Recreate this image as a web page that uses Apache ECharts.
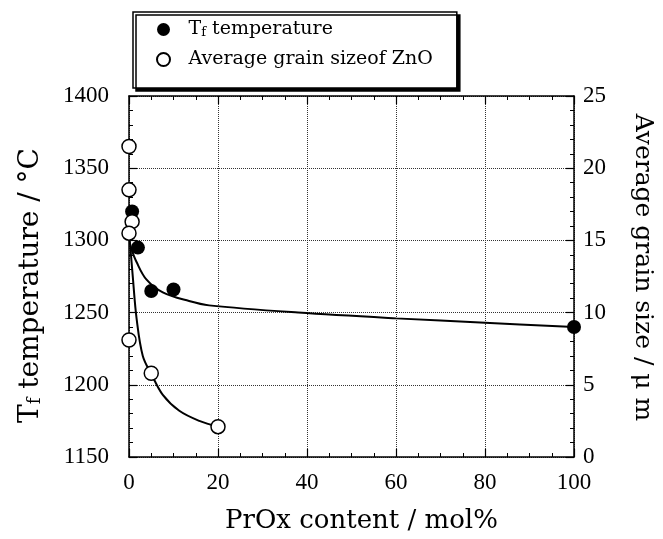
<!DOCTYPE html>
<html>
<head>
<meta charset="utf-8">
<script src="https://cdn.jsdelivr.net/npm/echarts@6/dist/echarts.min.js"></script>
<style>
  html, body { margin: 0; padding: 0; background: #fff; }
  #chart { width: 663px; height: 539px; }
</style>
</head>
<body>
<div id="chart"></div>
<script>
// measured points
const tfX = [0.7, 2, 5, 10, 100];
const tfY = [1320, 1295, 1265, 1266, 1240];
const grainX = [0, 0, 0.7, 0, 0, 5, 20];
const grainY = [21.5, 18.5, 16.3, 15.5, 8.1, 5.8, 2.1];

// fitted curves
const tfCurveX = [0.4, 1.7, 3.9, 7.6, 13.5, 18, 38, 60, 80, 100];
const tfCurveY = [1295, 1285, 1273, 1264, 1258, 1255, 1250, 1246, 1243, 1240];
const grainCurveX = [0.1, 0.9, 1.7, 3.1, 5.1, 7.6, 11.3, 15.8, 20];
const grainCurveY = [15.3, 12.3, 9.6, 7.0, 5.7, 4.3, 3.2, 2.5, 2.1];

const xTicks = [0, 20, 40, 60, 80, 100];
const leftTicks = [1150, 1200, 1250, 1300, 1350, 1400];
const rightTicks = [0, 5, 10, 15, 20, 25];

const serif = "'Liberation Serif', serif";
const wide = "'DejaVu Serif', serif";

const zip = (xs, ys) => xs.map((x, i) => [x, ys[i]]);

const chart = echarts.init(document.getElementById("chart"));

const axisLine = { show: true, onZero: false, lineStyle: { color: "#000", width: 1.5 } };
const tick = { show: true, inside: true, length: 8, lineStyle: { color: "#000", width: 1.2 } };
const minor = (n) => ({ show: true, splitNumber: n, length: 4, lineStyle: { color: "#000", width: 1 } });
const grid = { show: true, lineStyle: { color: "#333", type: "dotted", width: 1 } };
const label = { color: "#000", fontFamily: serif, fontSize: 23, formatter: (v) => String(v) };

const option = {
    backgroundColor: "#fff",
    animation: false,
    grid: { left: 129, right: 84, top: 96, bottom: 80 },
    legend: {
        orient: "vertical",
        left: 133,
        top: 12,
        padding: [8, 24, 19, 23],
        itemGap: 11,
        itemWidth: 40,
        itemHeight: 13,
        backgroundColor: "#fff",
        borderColor: "#000",
        borderWidth: 1.5,
        borderRadius: 0,
        shadowColor: "#000",
        shadowOffsetX: 3,
        shadowOffsetY: 3,
        shadowBlur: 0,
        data: [
            { name: "Tf temperature", icon: "circle" },
            { name: "Average grain sizeof ZnO", icon: "circle" },
        ],
        formatter: (name) =>
            name === "Tf temperature" ? "{a|T}{s|f}{a| temperature}" : "{a|" + name + "}",
        textStyle: {
            rich: {
                a: { fontFamily: wide, fontSize: 19, color: "#000" },
                s: { fontFamily: wide, fontSize: 13, color: "#000", padding: [6, 0, 0, 0] },
            },
        },
    },
    xAxis: [
        {
            type: "value",
            position: "bottom",
            min: xTicks[0],
            max: xTicks[xTicks.length - 1],
            interval: 20,
            axisLine,
            axisTick: tick,
            minorTick: minor(4),
            splitLine: grid,
            axisLabel: { ...label, margin: 14 },
            name: "PrOx content / mol%",
            nameLocation: "middle",
            nameGap: 51,
            nameTextStyle: { fontFamily: wide, fontSize: 26, color: "#000", padding: [0, 0, 0, 20] },
        },
        {
            type: "value",
            position: "top",
            min: xTicks[0],
            max: xTicks[xTicks.length - 1],
            interval: 20,
            axisLine,
            axisTick: tick,
            minorTick: minor(4),
            splitLine: { show: false },
            axisLabel: { show: false },
        },
    ],
    yAxis: [
        {
            type: "value",
            position: "left",
            min: leftTicks[0],
            max: leftTicks[leftTicks.length - 1],
            interval: 50,
            axisLine,
            axisTick: tick,
            minorTick: minor(5),
            splitLine: grid,
            axisLabel: { ...label, margin: 20 },
            name: "{a|T}{s|f}{a| temperature / °C}",
            nameLocation: "middle",
            nameRotate: 90,
            nameGap: 84,
            nameTextStyle: {
                padding: [0, 18, 0, 0],
                rich: {
                    a: { fontFamily: wide, fontSize: 28, color: "#000" },
                    s: { fontFamily: wide, fontSize: 18, color: "#000", padding: [9, 0, 0, 0] },
                },
            },
        },
        {
            type: "value",
            position: "right",
            min: rightTicks[0],
            max: rightTicks[rightTicks.length - 1],
            interval: 5,
            axisLine,
            axisTick: tick,
            minorTick: minor(5),
            splitLine: { show: false },
            axisLabel: { ...label, margin: 9 },
            name: "Average grain size / μ m",
            nameLocation: "middle",
            nameRotate: -90,
            nameGap: 56,
            nameTextStyle: { fontFamily: wide, fontSize: 25, color: "#000", padding: [0, 18, 0, 0] },
        },
    ],
    series: [
        {
            type: "line",
            yAxisIndex: 0,
            data: zip(tfCurveX, tfCurveY),
            smooth: 0.35,
            showSymbol: false,
            silent: true,
            lineStyle: { color: "#000", width: 2 },
            z: 2,
        },
        {
            type: "line",
            yAxisIndex: 1,
            data: zip(grainCurveX, grainCurveY),
            smooth: 0.35,
            showSymbol: false,
            silent: true,
            lineStyle: { color: "#000", width: 2 },
            z: 2,
        },
        {
            name: "Tf temperature",
            type: "scatter",
            yAxisIndex: 0,
            data: zip(tfX, tfY),
            symbol: "circle",
            symbolSize: 14,
            itemStyle: { color: "#000", opacity: 1 },
            z: 3,
        },
        {
            name: "Average grain sizeof ZnO",
            type: "scatter",
            yAxisIndex: 1,
            data: zip(grainX, grainY),
            symbol: "circle",
            symbolSize: 14,
            itemStyle: { color: "#fff", borderColor: "#000", borderWidth: 1.5, opacity: 1 },
            z: 4,
        },
    ],
};

chart.setOption(option);
</script>
</body>
</html>
